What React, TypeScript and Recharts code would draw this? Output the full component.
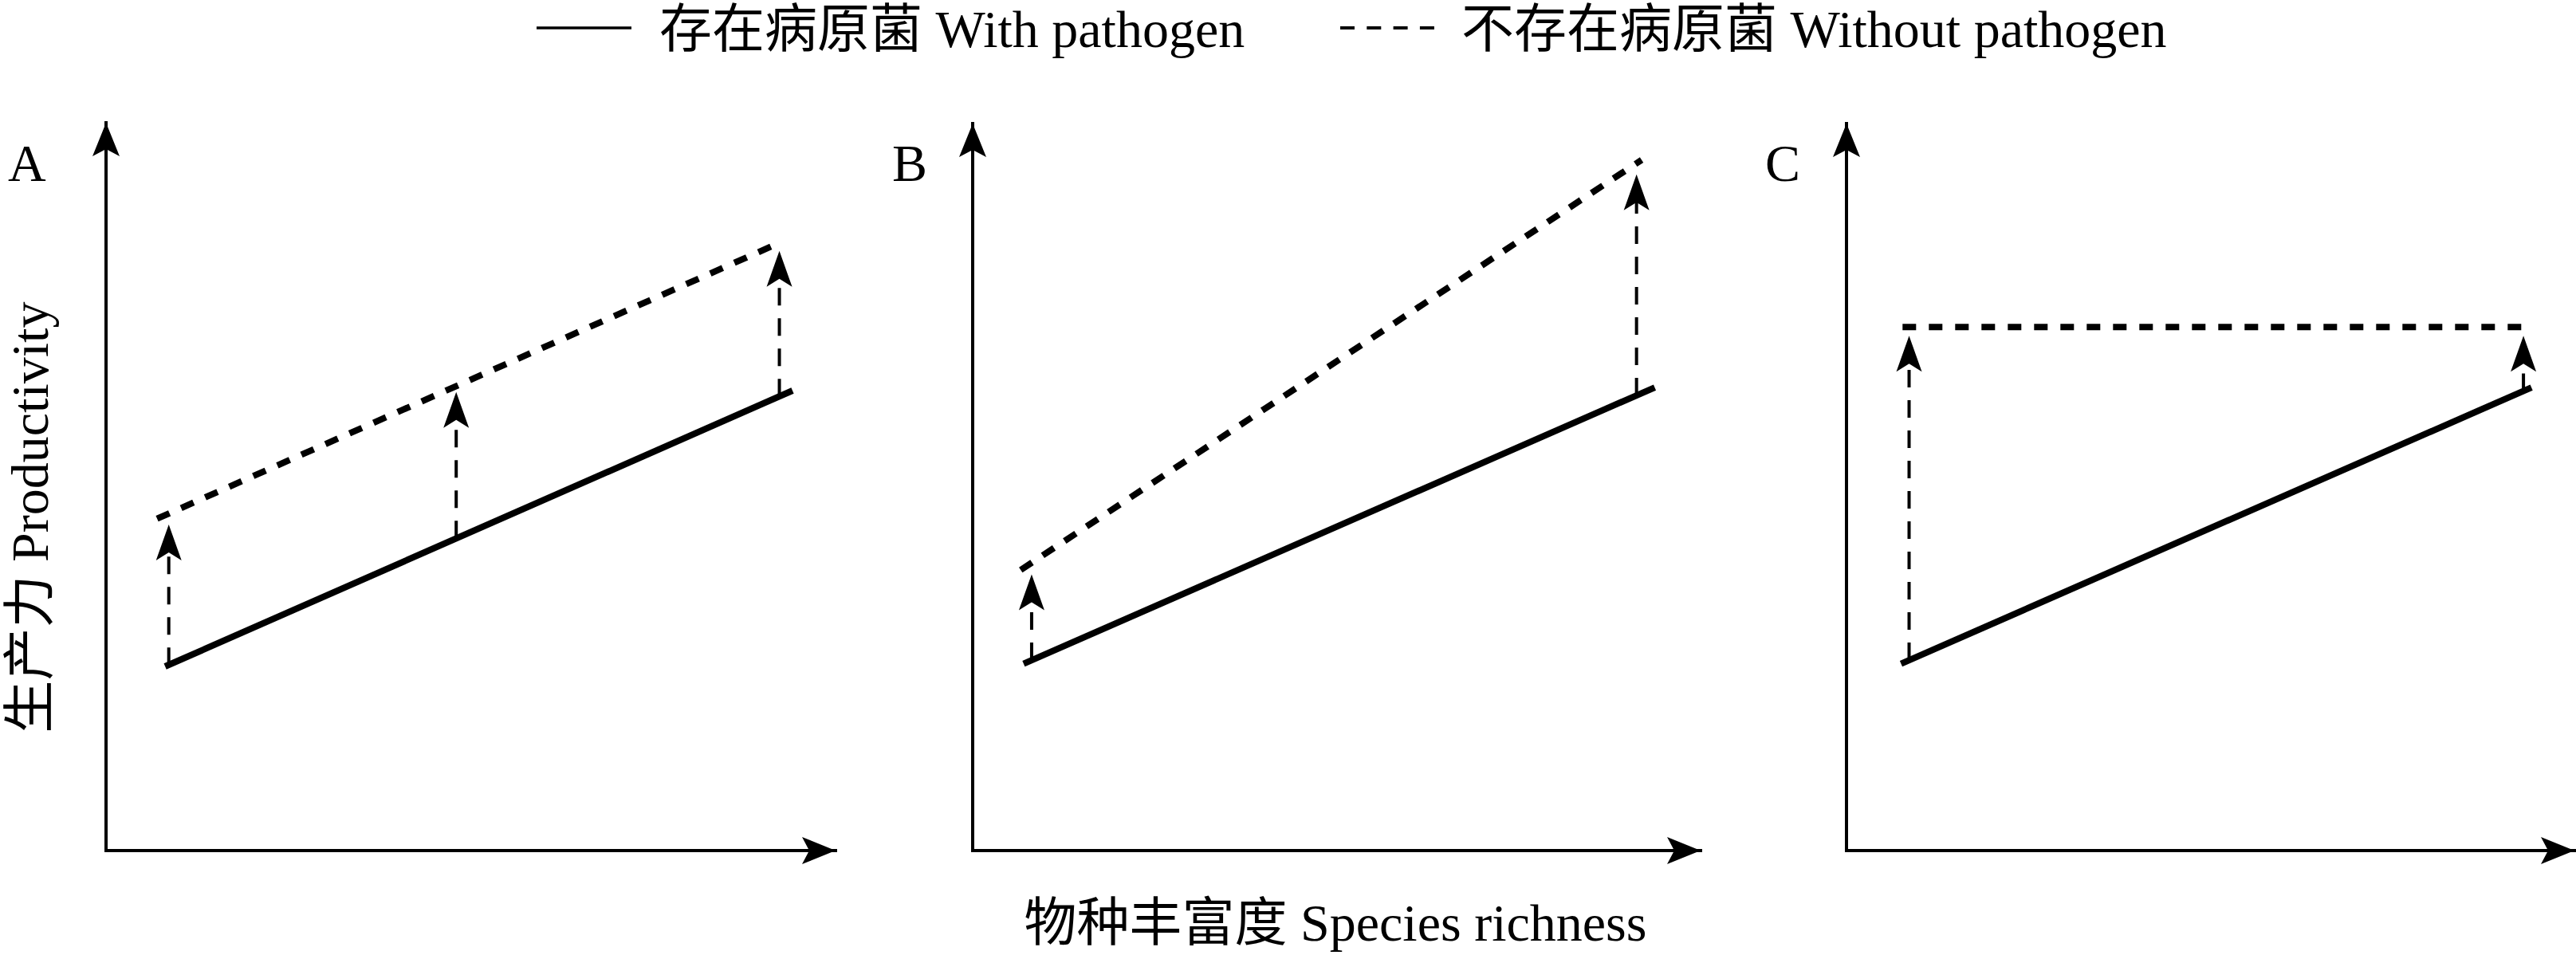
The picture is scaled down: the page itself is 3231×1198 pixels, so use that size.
import React from "react";
import { LineChart, Line, XAxis, YAxis, ReferenceLine, ReferenceDot } from "recharts";

const FONT = '"Liberation Serif", "Times New Roman", "Noto Sans CJK SC", serif';

// legend + axis titles
const legendNames = ["存在病原菌 With pathogen", "不存在病原菌 Without pathogen"];
const xTitle = "物种丰富度 Species richness";
const yTitle = "生产力 Productivity";
const panelLetters = ["A", "B", "C"];

// values in axis units (0-100, 100 = arrow tip)
const withA = [{ x: 8.1, y: 25.3 }, { x: 94.1, y: 63.2 }];
const withoutA = [{ x: 7.0, y: 45.6 }, { x: 92.3, y: 83.5 }];
const arrowsA = [
  { x: 8.6, from: 25.5, to: 44.8 },
  { x: 48.0, from: 42.9, to: 63.0 },
  { x: 92.3, from: 62.4, to: 82.4 },
];

const withB = [{ x: 7.0, y: 25.7 }, { x: 93.7, y: 63.7 }];
const withoutB = [{ x: 6.6, y: 38.6 }, { x: 91.9, y: 95.0 }];
const arrowsB = [
  { x: 8.1, from: 26.2, to: 38.0 },
  { x: 91.2, from: 62.6, to: 93.0 },
];

const withC = [{ x: 7.5, y: 25.7 }, { x: 94.1, y: 63.7 }];
const withoutC = [{ x: 7.7, y: 72.0 }, { x: 93.7, y: 72.0 }];
const arrowsC = [
  { x: 8.6, from: 26.2, to: 70.8 },
  { x: 93.0, from: 63.2, to: 70.8 },
];

type Pt = { x: number; y: number };
type Arrow = { x: number; from: number; to: number };

function headPath(cx: number, cy: number, dir: string, len: number, half: number, notch: number) {
  if (dir === "up") {
    return `M${cx},${cy} L${cx + half},${cy + len} L${cx},${cy + len - notch} L${cx - half},${cy + len} Z`;
  }
  return `M${cx},${cy} L${cx - len},${cy - half} L${cx - len + notch},${cy} L${cx - len},${cy + half} Z`;
}

interface PanelProps {
  left: number;
  right: number;
  top: number;
  bottom: number;
  solid: Pt[];
  dashed: Pt[];
  arrows: Arrow[];
}

function Panel({ left, right, top, bottom, solid, dashed, arrows }: PanelProps) {
  const pad = 60;
  const axisStyle = { stroke: "#000", strokeWidth: 4, strokeLinecap: "square" as const };
  return (
    <div style={{ position: "absolute", left: left - pad, top: top - pad }}>
      <LineChart
        width={right - left + pad * 2}
        height={bottom - top + pad * 2}
        margin={{ top: pad, right: pad, bottom: pad - 1, left: pad - 1 }}
      >
        <XAxis
          type="number"
          dataKey="x"
          domain={[0, 100]}
          allowDataOverflow
          tick={false}
          tickLine={false}
          axisLine={axisStyle}
          height={1}
        />
        <YAxis
          type="number"
          dataKey="y"
          domain={[0, 100]}
          allowDataOverflow
          tick={false}
          tickLine={false}
          axisLine={axisStyle}
          width={1}
        />
        {arrows.map((a, i) => (
          <ReferenceLine
            key={`s${i}`}
            segment={[{ x: a.x, y: a.from }, { x: a.x, y: a.to - 2 }]}
            stroke="#000"
            strokeWidth={4}
            strokeDasharray="22 16"
            ifOverflow="visible"
          />
        ))}
        {arrows.map((a, i) => (
          <ReferenceDot
            key={`h${i}`}
            x={a.x}
            y={a.to}
            ifOverflow="visible"
            shape={(p: any) => <path d={headPath(p.cx, p.cy, "up", 45, 16, 10)} fill="#000" />}
          />
        ))}
        <Line
          data={solid}
          dataKey="y"
          type="linear"
          stroke="#000"
          strokeWidth={8}
          dot={false}
          isAnimationActive={false}
        />
        <Line
          data={dashed}
          dataKey="y"
          type="linear"
          stroke="#000"
          strokeWidth={8}
          strokeDasharray="17 16"
          dot={false}
          isAnimationActive={false}
        />
        <ReferenceDot
          x={100}
          y={0}
          ifOverflow="visible"
          shape={(p: any) => <path d={headPath(p.cx, p.cy, "right", 42, 17, 9)} fill="#000" />}
        />
        <ReferenceDot
          x={0}
          y={100}
          ifOverflow="visible"
          shape={(p: any) => <path d={headPath(p.cx, p.cy, "up", 42, 17, 9)} fill="#000" />}
        />
      </LineChart>
    </div>
  );
}

export default function App() {
  return (
    <div
      style={{
        position: "absolute",
        left: 0,
        top: 0,
        width: 3231,
        height: 1198,
        background: "#fff",
        overflow: "hidden",
      }}
    >
      <Panel left={133} right={1048} top={154} bottom={1067} solid={withA} dashed={withoutA} arrows={arrowsA} />
      <Panel left={1220} right={2133} top={155} bottom={1067} solid={withB} dashed={withoutB} arrows={arrowsB} />
      <Panel left={2316} right={3229} top={155} bottom={1067} solid={withC} dashed={withoutC} arrows={arrowsC} />

      <svg
        width={3231}
        height={1198}
        style={{ position: "absolute", left: 0, top: 0, pointerEvents: "none" }}
        fontFamily={FONT}
        fontSize={66}
      >
        {/* legend */}
        <line x1={673} y1={35} x2={792} y2={35} stroke="#000" strokeWidth={3.5} />
        <text x={827} y={59} fill="#000">{legendNames[0]}</text>
        <line x1={1681} y1={35} x2={1799} y2={35} stroke="#000" strokeWidth={4} strokeDasharray="18 15.3" />
        <text x={1833} y={59} fill="#000">{legendNames[1]}</text>

        {/* panel letters */}
        <text x={10} y={227} fill="#000">{panelLetters[0]}</text>
        <text x={1119} y={227} fill="#000">{panelLetters[1]}</text>
        <text x={2214} y={227} fill="#000">{panelLetters[2]}</text>

        {/* axis titles */}
        <text x={60} y={649} textAnchor="middle" transform="rotate(-90 60 649)" fill="#000">
          {yTitle}
        </text>
        <text x={1675} y={1180} textAnchor="middle" fill="#000">{xTitle}</text>
      </svg>
    </div>
  );
}
